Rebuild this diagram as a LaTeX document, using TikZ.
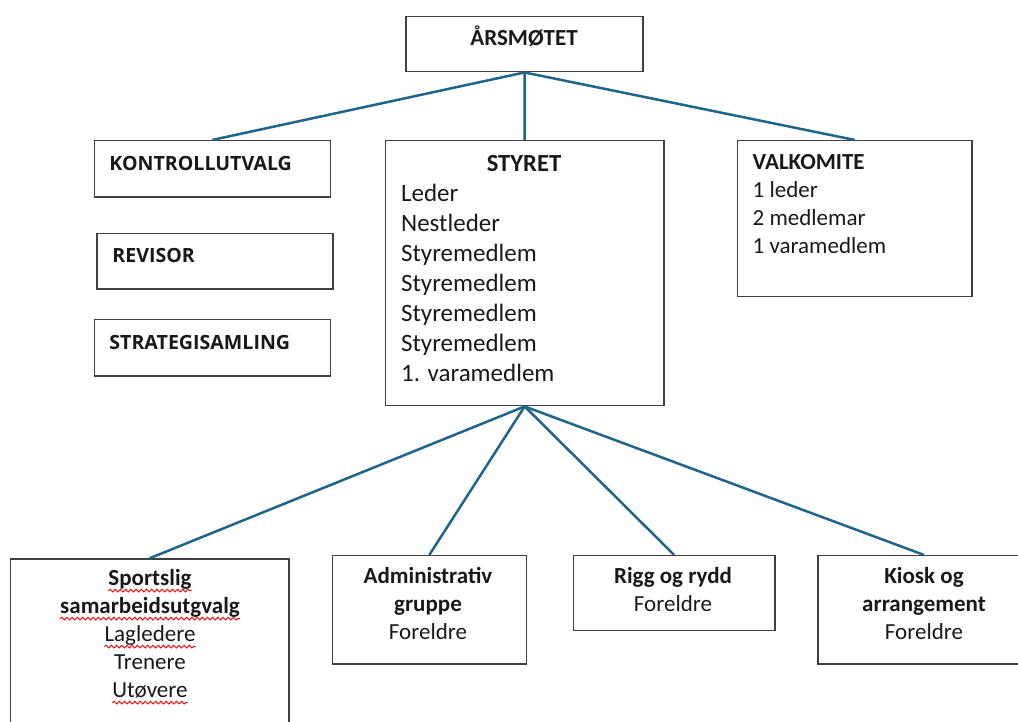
\documentclass[tikz,border=0pt]{standalone}
\usepackage{fontspec}
\setmainfont{Carlito}
\newfontfamily\boxfont{Open Sans}
\usetikzlibrary{fit,decorations.pathmorphing}
\definecolor{linkblue}{RGB}{31,100,138}
\definecolor{framegray}{RGB}{64,64,64}
\newsavebox{\spellbox}
\newcommand{\spell}[1]{%
  \sbox{\spellbox}{#1}%
  \makebox[0pt][l]{\tikz[overlay,x=1pt,y=1pt]\draw[red,line width=0.45pt,decorate,
      decoration={snake,amplitude=0.7pt,segment length=2.6pt}] (0,-2.8) -- (\the\wd\spellbox,-2.8);}%
  \usebox{\spellbox}}
\newcommand{\setup}{
    \coordinate (page0) at (0,0);
    \coordinate (page1) at (1018,722);
}
\tikzset{
    box/.style={draw=framegray,line width=0.75pt,inner sep=0pt},
    link/.style={draw=linkblue,line width=1.25pt},
    head/.style={font=\fontsize{11.5}{14}\selectfont\bfseries,inner sep=0pt},
    plain/.style={font=\fontsize{11.5}{14}\selectfont,inner sep=0pt},
    sidehead/.style={font=\boxfont\fontsize{9.8}{12}\selectfont\bfseries,inner sep=0pt,anchor=base west},
}

\begin{document}
\begin{tikzpicture}[x=0.5pt,y=-0.5pt,text=black!90]
          \setup;
          \useasboundingbox (page0) rectangle (page1);

          % frames
          \node[box,fit={(406,16.7) (643,71.7)}] (aarsmote) {};
          \node[box,fit={(94.3,140.7) (330.3,197)}] (kontroll) {};
          \node[box,fit={(97,233.7) (333,289)}] (revisor) {};
          \node[box,fit={(94.3,319.3) (330.3,376)}] (strategi) {};
          \node[box,fit={(385.3,140.7) (664,405.7)}] (styret) {};
          \node[box,fit={(737.3,140.7) (972,296.7)}] (valkomite) {};
          \node[box,fit={(10.3,559) (289,740)}] (sport) {};
          \node[box,fit={(332.3,555.7) (526.3,664)}] (admin) {};
          \node[box,fit={(573.3,555.7) (775,630.7)}] (rigg) {};
          \node[box,fit={(818,555.7) (1030,664)}] (kiosk) {};

          % texts (multi-line nodes sit on their last baseline)
          \node[head,anchor=base] (aarsmote-t) at (524,46) {ÅRSMØTET};
          \node[sidehead] (kontroll-t) at (109,170) {KONTROLLUTVALG};
          \node[sidehead] (revisor-t) at (112,263) {REVISOR};
          \node[sidehead] (strategi-t) at (109,349) {STRATEGISAMLING};
          \node[head,font=\fontsize{12.3}{15}\selectfont\bfseries,anchor=base] (styret-t) at (524,171.7) {STYRET};
          \node[plain,font=\fontsize{12.5}{15}\selectfont,align=left,anchor=base west] (styret-l) at (400.7,381.7)
                {Leder\\Nestleder\\Styremedlem\\Styremedlem\\Styremedlem\\Styremedlem\\1. varamedlem};
          \node[plain,align=left,anchor=base west] (valkomite-t) at (752.3,253.3)
                {\textbf{VALKOMITE}\\1 leder\\2 medlemar\\1 varamedlem};
          \node[plain,align=center,anchor=base] (sport-t) at (150,697)
                {\textbf{\spell{Sportslig}}\\\textbf{\spell{samarbeidsutgvalg}}\\\spell{Lagledere}\\Trenere\\\spell{Utøvere}};
          \node[plain,align=center,anchor=base] (admin-t) at (428,639.5)
                {\textbf{Administrativ}\\\textbf{gruppe}\\Foreldre};
          \node[plain,align=center,anchor=base] (rigg-t) at (673,611.5)
                {\textbf{Rigg og rydd}\\Foreldre};
          \node[plain,align=center,anchor=base] (kiosk-t) at (924,639.5)
                {\textbf{Kiosk og}\\\textbf{arrangement}\\Foreldre};

          % links
          \draw[link] (aarsmote.south) -- (kontroll.north);
          \draw[link] (aarsmote.south) -- (styret.north);
          \draw[link] (aarsmote.south) -- (valkomite.north);
          \draw[link] (styret.south) -- (sport.north);
          \draw[link] (styret.south) -- (admin.north);
          \draw[link] (styret.south) -- (rigg.north);
          \draw[link] (styret.south) -- (kiosk.north);
        \end{tikzpicture}
\end{document}
